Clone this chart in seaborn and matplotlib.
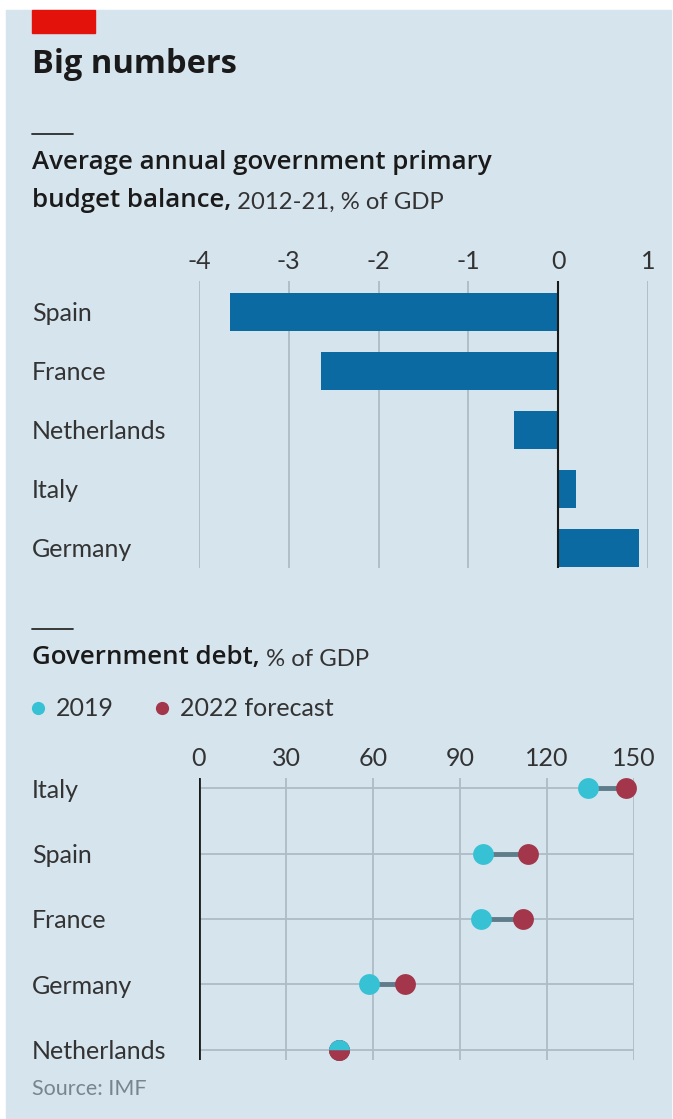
import matplotlib
matplotlib.use("Agg")
import matplotlib.pyplot as plt
import matplotlib.patches as mpatches
from matplotlib.lines import Line2D
from matplotlib import font_manager
import seaborn as sns

W, H = 673, 1119

# primary budget balance, 2012-21 average, % of GDP
balance_countries = ["Spain", "France", "Netherlands", "Italy", "Germany"]
balance_values = [-3.65, -2.64, -0.49, 0.20, 0.90]
balance_ticks = [-4, -3, -2, -1, 0, 1]

# government debt, % of GDP
debt_countries = ["Italy", "Spain", "France", "Germany", "Netherlands"]
debt_2019 = [134.0, 98.0, 97.2, 58.7, 48.4]
debt_2022 = [147.2, 113.6, 111.6, 70.9, 48.4]
debt_ticks = [0, 30, 60, 90, 120, 150]
series_labels = ["2019", "2022 forecast"]

BG = "#d6e4ed"
RED_TAG = "#e3120b"
BLUE = "#0a6aa1"
CYAN = "#36c2d4"
WINE = "#a3364a"
CONNECT = "#5f7c8b"
GRID = "#aebcc5"
DARK = "#1a1a1a"
LABEL = "#333333"

sns.set_style("white")
names = {f.name for f in font_manager.fontManager.ttflist}
FONT = "Lato" if "Lato" in names else "DejaVu Sans"
BOLD_FONT = "Open Sans" if "Open Sans" in names else FONT
plt.rcParams["font.family"] = [FONT, "DejaVu Sans"]
plt.rcParams["axes.unicode_minus"] = False

LAB_FS = 18
HEAD_FS = 18.6
REG_FS = 17.2


def ax_rect(l, t, r, b):
    return [l / W, 1 - b / H, (r - l) / W, (b - t) / H]


def fy(y):
    return 1 - y / H


fig = plt.figure(figsize=(W / 100, H / 100), dpi=100)
fig.patch.set_facecolor("white")
fig.patches.append(mpatches.Rectangle((6 / W, fy(1118)), 665 / W, 1108 / H,
                                      transform=fig.transFigure, color=BG, zorder=-10))
fig.patches.append(mpatches.Rectangle((32 / W, fy(33)), 63 / W, 23 / H,
                                      transform=fig.transFigure, color=RED_TAG, zorder=-5))

fig.text(32 / W, fy(73), "Big numbers", fontsize=23.5, weight="bold", color=DARK,
         va="baseline", family=[BOLD_FONT, "DejaVu Sans"])

for yy in (134, 629):
    fig.add_artist(Line2D([32 / W, 73 / W], [fy(yy), fy(yy)], color="#2b2b2b", lw=1.3))

# ---- bar chart
ax1 = fig.add_axes(ax_rect(199, 281, 648, 568))
ax1.set_facecolor("none")
sns.barplot(x=balance_values, y=balance_countries, orient="h", color=BLUE,
            saturation=1, width=0.64, linewidth=0, ax=ax1, zorder=2)
ax1.set_xlim(-4, 1)
ax1.set_ylim(4.34, -0.525)
ax1.xaxis.tick_top()
ax1.set_xticks(balance_ticks)
ax1.set_xticklabels([str(t) for t in balance_ticks])
ax1.grid(axis="x", color=GRID, lw=1.3)
ax1.grid(axis="y", visible=False)
ax1.set_axisbelow(True)
ax1.axvline(0, color=DARK, lw=1.5, zorder=3)
ax1.tick_params(axis="x", length=0, pad=6, labelsize=LAB_FS, labelcolor=LABEL)
ax1.tick_params(axis="y", length=0, pad=(199 - 32) * 0.72, labelsize=LAB_FS, labelcolor=LABEL)
for lab in ax1.get_yticklabels():
    lab.set_horizontalalignment("left")
ax1.set_xlabel("")
ax1.set_ylabel("")
for s in ax1.spines.values():
    s.set_visible(False)

fig.text(32 / W, fy(169), "Average annual government primary", fontsize=HEAD_FS,
         weight="semibold", color=DARK, va="baseline", family=[BOLD_FONT, "DejaVu Sans"])
t2 = fig.text(32 / W, fy(207), "budget balance,", fontsize=HEAD_FS, weight="semibold",
              color=DARK, va="baseline", family=[BOLD_FONT, "DejaVu Sans"])
ax1.annotate(" 2012-21, % of GDP", xy=(1, 0), xycoords=t2, va="bottom", ha="left",
             fontsize=REG_FS, color=LABEL, annotation_clip=False)

# ---- dot chart
ax2 = fig.add_axes(ax_rect(199, 778, 634, 1060))
ax2.set_facecolor("none")
sns.scatterplot(x=debt_2019, y=debt_countries, color=CYAN, s=225, linewidth=0,
                ax=ax2, zorder=4, clip_on=False)
ax2.hlines(y=debt_countries, xmin=debt_2019, xmax=debt_2022, color=CONNECT, lw=3.5, zorder=3)
sns.scatterplot(x=debt_2022, y=debt_countries, color=WINE, s=225, linewidth=0,
                ax=ax2, zorder=5, clip_on=False)
for a, b, c in zip(debt_2019, debt_2022, debt_countries):
    if abs(a - b) < 0.5:
        ax2.plot([a], [c], marker="o", ms=15, ls="", fillstyle="top", markerfacecolor=CYAN,
                 markerfacecoloralt=WINE, markeredgewidth=0, zorder=6, clip_on=False)
ax2.set_xlim(0, 150)
ax2.set_ylim(4.153, -0.153)
ax2.xaxis.tick_top()
ax2.set_xticks(debt_ticks)
ax2.set_xticklabels([str(t) for t in debt_ticks])
ax2.grid(True, color=GRID, lw=1.3)
ax2.set_axisbelow(True)
ax2.axvline(0, color=DARK, lw=2, zorder=3)
ax2.tick_params(axis="x", length=0, pad=6, labelsize=LAB_FS, labelcolor=LABEL)
ax2.tick_params(axis="y", length=0, pad=(199 - 32) * 0.72, labelsize=LAB_FS, labelcolor=LABEL)
for lab in ax2.get_yticklabels():
    lab.set_horizontalalignment("left")
ax2.set_xlabel("")
ax2.set_ylabel("")
for s in ax2.spines.values():
    s.set_visible(False)

t3 = fig.text(32 / W, fy(664), "Government debt,", fontsize=HEAD_FS, weight="semibold",
              color=DARK, va="baseline", family=[BOLD_FONT, "DejaVu Sans"])
ax2.annotate(" % of GDP", xy=(1, 0), xycoords=t3, va="bottom", ha="left",
             fontsize=REG_FS, color=LABEL, annotation_clip=False)

handles = [Line2D([], [], ls="", marker="o", ms=9.5, color=CYAN, markeredgewidth=0),
           Line2D([], [], ls="", marker="o", ms=9.5, color=WINE, markeredgewidth=0)]
fig.legend(handles, series_labels, loc="center left", bbox_to_anchor=(30 / W, fy(709)),
           ncol=2, frameon=False, fontsize=LAB_FS, borderpad=0, borderaxespad=0,
           handlelength=0.6, handletextpad=0.45, columnspacing=1.6, labelcolor=LABEL)

fig.text(32 / W, fy(1095), "Source: IMF", fontsize=15.5, color="#77858e", va="baseline")

fig.savefig("out.png", dpi=100, facecolor="white")
